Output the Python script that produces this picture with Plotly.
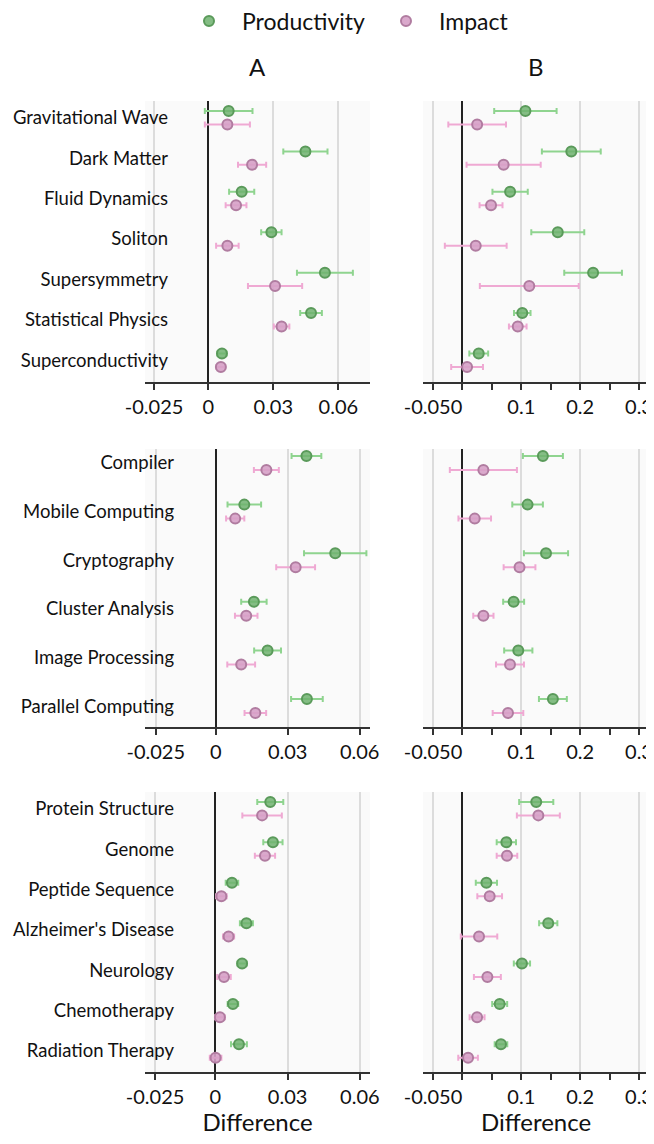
import plotly.graph_objects as go

# ---------------- data ----------------
cats_phys = ["Gravitational Wave", "Dark Matter", "Fluid Dynamics", "Soliton",
             "Supersymmetry", "Statistical Physics", "Superconductivity"]
cats_cs = ["Compiler", "Mobile Computing", "Cryptography", "Cluster Analysis",
           "Image Processing", "Parallel Computing"]
cats_bio = ["Protein Structure", "Genome", "Peptide Sequence", "Alzheimer's Disease",
            "Neurology", "Chemotherapy", "Radiation Therapy"]

# Panel A (physics)
a_phys_prod = [0.0094, 0.0448, 0.0154, 0.0291, 0.0538, 0.0474, 0.0063]
a_phys_prod_err = [0.0110, 0.0102, 0.0058, 0.0047, 0.0129, 0.0050, 0.0021]
a_phys_imp = [0.0088, 0.0202, 0.0128, 0.0088, 0.0308, 0.0338, 0.0058]
a_phys_imp_err = [0.0104, 0.0065, 0.0048, 0.0052, 0.0125, 0.0036, 0.0020]
# Panel B (physics)
b_phys_prod = [0.107, 0.185, 0.081, 0.162, 0.222, 0.1017, 0.0277]
b_phys_prod_err = [0.053, 0.050, 0.030, 0.045, 0.049, 0.014, 0.016]
b_phys_imp = [0.025, 0.070, 0.0486, 0.0226, 0.1136, 0.094, 0.0079]
b_phys_imp_err = [0.049, 0.063, 0.0195, 0.0525, 0.084, 0.015, 0.027]

# Panel A (computer science)
a_cs_prod = [0.0378, 0.0119, 0.0498, 0.0159, 0.0216, 0.0380]
a_cs_prod_err = [0.0062, 0.0070, 0.0130, 0.0053, 0.0056, 0.0066]
a_cs_imp = [0.0211, 0.0081, 0.0333, 0.0127, 0.0106, 0.0165]
a_cs_imp_err = [0.0052, 0.0038, 0.0081, 0.0047, 0.0058, 0.0045]
# Panel B (computer science)
b_cs_prod = [0.1367, 0.1107, 0.142, 0.087, 0.0949, 0.1537]
b_cs_prod_err = [0.034, 0.026, 0.0375, 0.0178, 0.024, 0.0237]
b_cs_imp = [0.0356, 0.0209, 0.097, 0.0356, 0.0808, 0.0774]
b_cs_imp_err = [0.057, 0.0277, 0.027, 0.0172, 0.0237, 0.026]

# Panel A (biology / medicine)
a_bio_prod = [0.0228, 0.0239, 0.0069, 0.0129, 0.0111, 0.0073, 0.0098]
a_bio_prod_err = [0.0054, 0.0040, 0.0026, 0.0027, 0.0019, 0.0022, 0.0033]
a_bio_imp = [0.0194, 0.0206, 0.0025, 0.0055, 0.0036, 0.0019, 0.0001]
a_bio_imp_err = [0.0082, 0.0042, 0.0022, 0.0023, 0.0028, 0.0020, 0.0024]
# Panel B (biology / medicine)
b_bio_prod = [0.1254, 0.0746, 0.0407, 0.1458, 0.1011, 0.0633, 0.0655]
b_bio_prod_err = [0.029, 0.0164, 0.018, 0.0155, 0.0138, 0.0127, 0.0107]
b_bio_imp = [0.129, 0.0757, 0.0463, 0.0282, 0.0424, 0.0249, 0.0096]
b_bio_imp_err = [0.0365, 0.0175, 0.021, 0.031, 0.0229, 0.0127, 0.0167]

series_names = ["Productivity", "Impact"]
col_titles = ["A", "B"]
a_tickvals = [-0.025, 0, 0.03, 0.06]
a_ticktext = ["-0.025", "0", "0.03", "0.06"]
b_tickvals = [-0.05, 0.1, 0.2, 0.3]
b_ticktext = ["-0.050", "0.1", "0.2", "0.3"]
b_minor = [0, 0.05, 0.15, 0.25]
x_title = "Difference"

# ---------------- style ----------------
FONT = "Lato"
S = 8  # page body margin offset compensation (px)
W, H = 654 - S, 1144 - 2 * S
GREEN_ERR = "#8fd48f"
GREEN_FILL = "rgba(110,178,110,0.85)"
GREEN_LINE = "#5a9a5a"
PINK_ERR = "#efa9d3"
PINK_FILL = "rgba(214,160,198,0.9)"
PINK_LINE = "#b07ca0"
BG = "#fafafa"
GRID = "#dcdcdc"

# pixel layout of the panels (as seen on the page)
col_px = [(145, 370), (423, 649)]
row_px = [(101, 382), (449, 727), (792, 1072)]
# y ranges (reversed: first category on top)
row_yrange = [[6.54, -0.413], [5.43, -0.288], [6.52, -0.413]]
row_off = [0.166, 0.144, 0.166]
row_standoff = [-24, -30, -30]
a_xrange = [[-0.0292, 0.0746], [-0.0295, 0.0643], [-0.0292, 0.0642]]
b_xrange = [-0.067, 0.317]

rows = [
    (cats_phys, (a_phys_prod, a_phys_prod_err, a_phys_imp, a_phys_imp_err),
     (b_phys_prod, b_phys_prod_err, b_phys_imp, b_phys_imp_err)),
    (cats_cs, (a_cs_prod, a_cs_prod_err, a_cs_imp, a_cs_imp_err),
     (b_cs_prod, b_cs_prod_err, b_cs_imp, b_cs_imp_err)),
    (cats_bio, (a_bio_prod, a_bio_prod_err, a_bio_imp, a_bio_imp_err),
     (b_bio_prod, b_bio_prod_err, b_bio_imp, b_bio_imp_err)),
]

fig = go.Figure()
layout = dict(
    width=W, height=H,
    margin=dict(l=0, r=0, t=0, b=0, autoexpand=False),
    paper_bgcolor="white",
    plot_bgcolor=BG,
    font=dict(family=FONT, color="#111111"),
    showlegend=True,
    legend=dict(orientation="h", x=(176 - S) / W, y=1 - (21 - S) / H,
                xanchor="left", yanchor="middle",
                font=dict(size=23, family=FONT), itemwidth=56,
                entrywidth=126, entrywidthmode="pixels",
                bgcolor="rgba(0,0,0,0)"),
)
annotations = []

k = 0
for r, (cats, adata, bdata) in enumerate(rows):
    idx = list(range(len(cats)))
    for c, data in enumerate([adata, bdata]):
        k += 1
        xa = "x" if k == 1 else f"x{k}"
        ya = "y" if k == 1 else f"y{k}"
        prod, prod_err, imp, imp_err = data
        off = row_off[r]
        for si, (vals, errs, fill, line, ecol, yshift) in enumerate([
            (prod, prod_err, GREEN_FILL, GREEN_LINE, GREEN_ERR, -off),
            (imp, imp_err, PINK_FILL, PINK_LINE, PINK_ERR, off),
        ]):
            fig.add_trace(go.Scatter(
                x=vals, y=[i + yshift for i in idx], mode="markers",
                name=series_names[si], legendgroup=series_names[si],
                showlegend=(k == 1),
                marker=dict(size=10, color=fill, line=dict(color=line, width=2)),
                error_x=dict(type="data", array=errs, visible=True, color=ecol,
                             thickness=2, width=3),
                xaxis=xa, yaxis=ya,
            ))
        x0, x1 = col_px[c]
        y0, y1 = row_px[r]
        xkey = "xaxis" if k == 1 else f"xaxis{k}"
        ykey = "yaxis" if k == 1 else f"yaxis{k}"
        xcfg = dict(
            domain=[(x0 - S) / W, (x1 - S) / W], anchor=ya, automargin=False,
            showgrid=True, gridcolor=GRID, gridwidth=1.5,
            zeroline=True, zerolinecolor="#222222", zerolinewidth=1.5,
            showline=True, linecolor="#333333", linewidth=1.5,
            ticks="outside", ticklen=6, tickwidth=1.5, tickcolor="#333333",
            tickfont=dict(size=20, family=FONT, color="#111111"),
            fixedrange=True,
        )
        if c == 0:
            xcfg.update(range=a_xrange[r], tickmode="array",
                        tickvals=a_tickvals, ticktext=a_ticktext)
        else:
            xcfg.update(range=b_xrange, tickmode="array",
                        tickvals=b_tickvals, ticktext=b_ticktext,
                        minor=dict(tickmode="array", tickvals=b_minor, ticks="outside",
                                   ticklen=6, tickwidth=1.5, tickcolor="#333333",
                                   showgrid=False))
        if r == 2:
            xcfg.update(title=dict(text=x_title, font=dict(size=24, family=FONT),
                                   standoff=11))
        layout[xkey] = xcfg
        ycfg = dict(
            domain=[1 - (y1 - S) / H, 1 - (y0 - S) / H], anchor=xa, automargin=False,
            range=row_yrange[r], showgrid=False, zeroline=False, showline=False,
            ticks="", fixedrange=True,
        )
        if c == 0:
            ycfg.update(tickmode="array", tickvals=idx, ticktext=cats,
                        tickfont=dict(size=18.5, family=FONT, color="#111111"),
                        ticklabelstandoff=row_standoff[r])
        else:
            ycfg.update(showticklabels=False)
        layout[ykey] = ycfg

for c, t in enumerate(col_titles):
    x0, x1 = col_px[c]
    annotations.append(dict(text=t, x=((x0 + x1) / 2 - S) / W, y=1 - (66 - S) / H,
                            xref="paper", yref="paper", showarrow=False,
                            xanchor="center", yanchor="middle",
                            font=dict(size=24, family=FONT)))

layout["annotations"] = annotations
fig.update_layout(**layout)
fig.write_html("out.html")
